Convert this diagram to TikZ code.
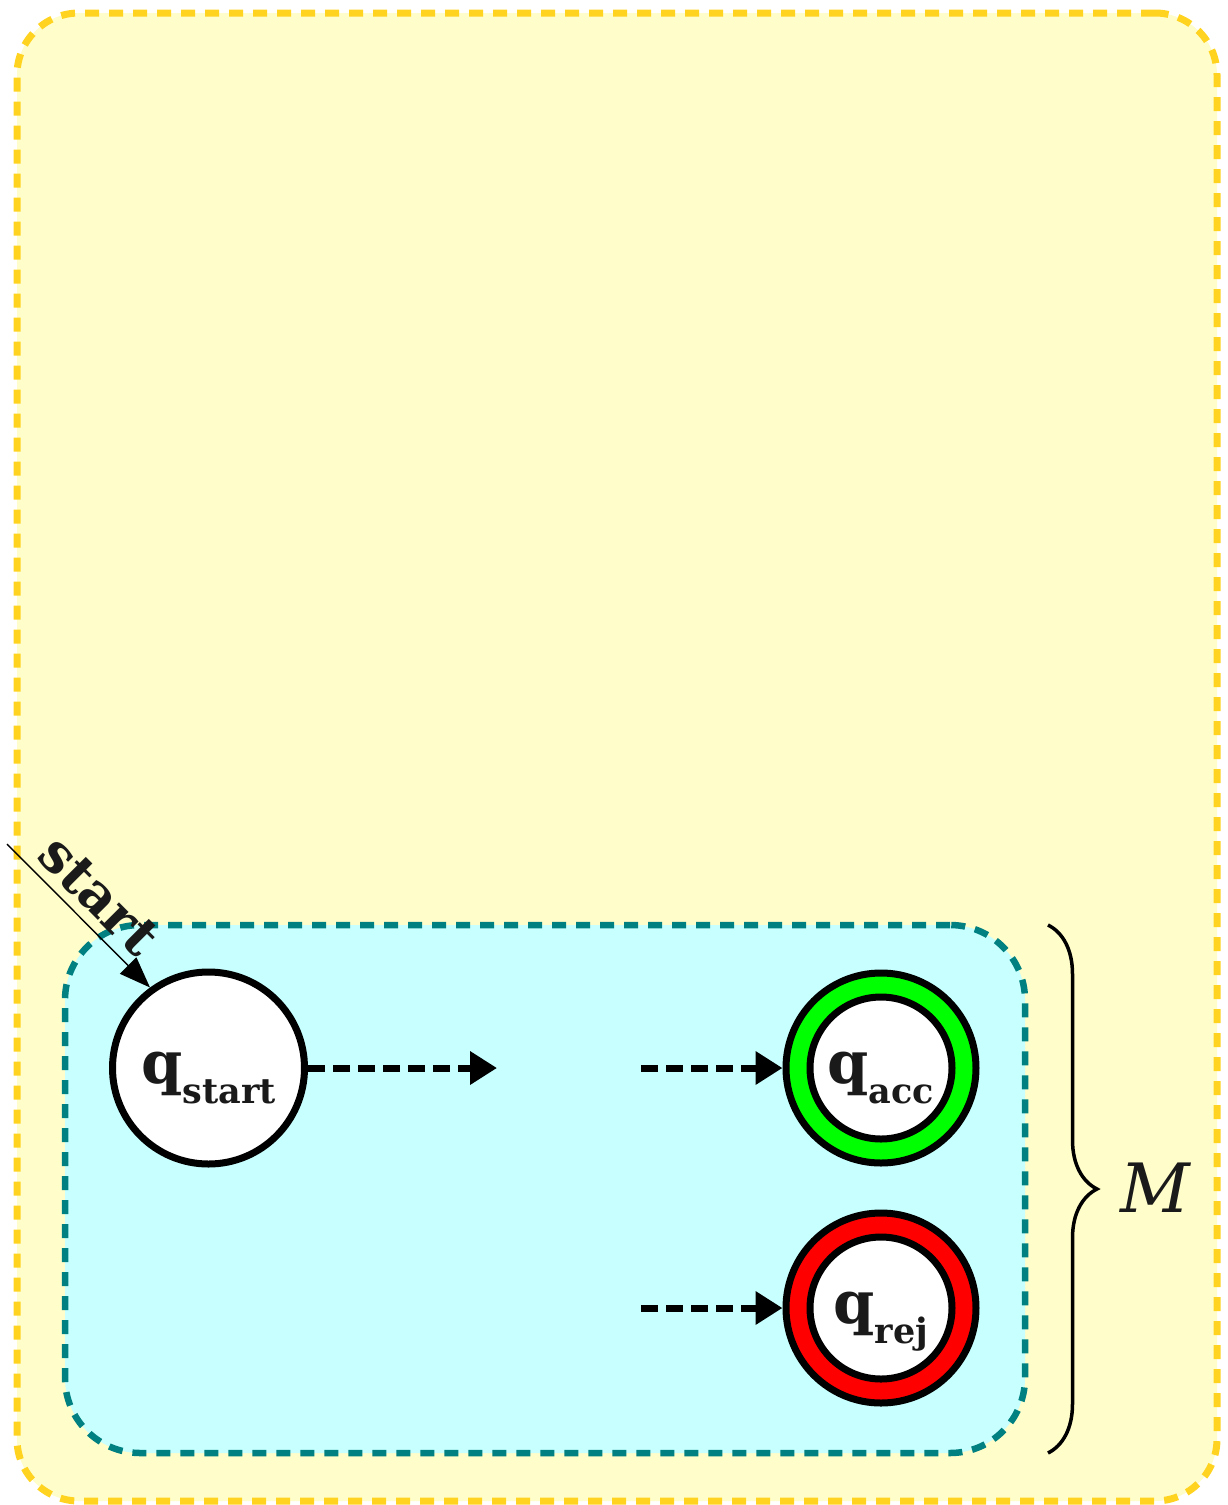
\documentclass[tikz,border=0pt]{standalone}
\usepackage{fontspec}
\setmainfont{DejaVu Serif}
\usetikzlibrary{arrows.meta,decorations.pathreplacing}
\definecolor{boxyellow}{RGB}{255,253,202}
\definecolor{boxgold}{RGB}{255,211,32}
\definecolor{boxcyan}{RGB}{200,255,255}
\definecolor{boxteal}{RGB}{0,128,128}
\definecolor{ink}{RGB}{26,26,26}
\newcommand\qsub[1]{\raisebox{-20pt}{\fontsize{35}{35}\selectfont #1}}
\begin{document}
\begin{tikzpicture}[x=1pt,y=-1pt,
  statefont/.style={text=ink,font=\fontsize{59}{59}\selectfont\bfseries,text height=41pt,text depth=10pt},
  statenode/.style={circle,draw=black,line width=7pt,fill=white,minimum size=192pt,inner sep=0pt,statefont},
  ringnode/.style={circle,draw=black,line width=7pt,minimum size=190pt,inner sep=0pt},
  innernode/.style={circle,draw=black,line width=7pt,fill=white,minimum size=142pt,inner sep=0pt,statefont},
  flow/.style={line width=7pt,dash pattern=on 17pt off 8pt,-{Triangle[length=27pt,width=32pt]}},
  container/.style={line width=#1,dash pattern=on 14pt off 10pt,inner sep=0pt},
]
\useasboundingbox (0,0) rectangle (1227,1505);
% containers
\node[container=7pt,draw=boxgold,fill=boxyellow,rounded corners=62pt,minimum width=1200pt,minimum height=1488pt] (outer) at (617,757) {};
\node[container=6.5pt,draw=boxteal,fill=boxcyan,rounded corners=75pt,minimum width=960pt,minimum height=528pt] (inner) at (545,1189) {};
% states
\node[statenode] (qs) at (208.5,1068) {q\qsub{start}};
\node[ringnode,fill=green] (qa) at (881,1068) {};
\node[innernode] (qai) at (qa.center) {q\qsub{acc}};
\node[ringnode,fill=red] (qr) at (881,1308) {};
\node[innernode] (qri) at (qr.center) {q\qsub{rej}};
% free ends
\coordinate (s0) at (7,844);
\coordinate (m1) at (497,1068);
\coordinate (m2) at (641,1068);
\coordinate (m3) at (641,1308);
\coordinate (bt) at (1048,925);
\coordinate (bb) at (1048,1453);
% connectors
\draw[flow] (qs.east) -- (m1);
\draw[flow] (m2) -- (qa.west);
\draw[flow] (m3) -- (qr.west);
\draw[line width=1.4pt,-{Triangle[length=31pt,width=23pt]}] (s0) -- (qs.126)
  node[pos=0.5,sloped,anchor=south,inner sep=9pt,text=ink,font=\fontsize{54}{54}\selectfont\bfseries] (startlbl) {start};
% brace
\draw[decorate,decoration={brace,amplitude=49pt},line width=3.5pt] (bt) -- (bb);
\node[text=ink,font=\fontsize{68}{68}\selectfont\itshape,inner sep=0pt] (mlbl) at (1155,1188) {M};
\end{tikzpicture}
\end{document}
